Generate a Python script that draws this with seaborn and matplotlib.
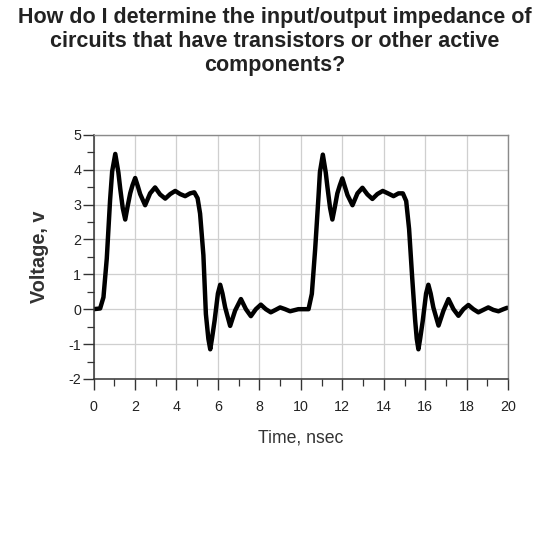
import matplotlib
matplotlib.use("Agg")
import matplotlib.pyplot as plt
import seaborn as sns
import pandas as pd
from matplotlib.ticker import MultipleLocator

# waveform (time in nsec, voltage in V)
time_ns = [
    0.0, 0.32, 0.48, 0.64, 0.80, 0.90, 1.05, 1.20, 1.29, 1.41, 1.53, 1.64,
    1.77, 1.88, 2.01, 2.14, 2.25, 2.49, 2.73, 2.97, 3.21, 3.46, 3.70, 3.94,
    4.18, 4.42, 4.66, 4.86, 5.02, 5.14, 5.30, 5.42, 5.54, 5.63, 5.72, 5.84,
    6.00, 6.11, 6.22, 6.35, 6.59, 6.83, 7.11, 7.35, 7.59, 7.83, 8.07, 8.31,
    8.55, 8.78, 9.00, 9.24, 9.48, 9.88, 10.37, 10.53, 10.69, 10.85, 10.92,
    11.06, 11.20, 11.28, 11.41, 11.52, 11.64, 11.76, 11.88, 12.00, 12.13,
    12.25, 12.49, 12.73, 12.97, 13.21, 13.45, 13.69, 13.95, 14.20, 14.47,
    14.71, 14.92, 15.08, 15.22, 15.37, 15.51, 15.59, 15.67, 15.76, 15.88,
    16.04, 16.15, 16.26, 16.39, 16.64, 16.88, 17.12, 17.36, 17.60, 17.84,
    18.08, 18.32, 18.56, 18.80, 19.04, 19.28, 19.53, 19.77, 19.95,
]
voltage = [
    0.0, 0.02, 0.34, 1.45, 3.13, 3.95, 4.45, 3.92, 3.45, 2.90, 2.57, 2.93,
    3.32, 3.55, 3.76, 3.52, 3.30, 2.98, 3.32, 3.49, 3.29, 3.17, 3.30, 3.39,
    3.30, 3.24, 3.32, 3.35, 3.18, 2.74, 1.55, -0.14, -0.85, -1.15, -0.82,
    -0.33, 0.45, 0.70, 0.45, 0.05, -0.48, -0.04, 0.29, 0.0, -0.20, 0.0,
    0.13, 0.0, -0.09, -0.02, 0.05, 0.0, -0.06, 0.0, 0.0, 0.44, 1.72, 3.22,
    3.93, 4.43, 3.92, 3.51, 2.90, 2.57, 2.93, 3.32, 3.55, 3.75, 3.50, 3.27,
    2.98, 3.32, 3.48, 3.29, 3.16, 3.30, 3.39, 3.32, 3.24, 3.32, 3.32, 3.10,
    2.30, 0.90, -0.30, -0.85, -1.15, -0.82, -0.33, 0.45, 0.70, 0.45, 0.05,
    -0.47, -0.04, 0.29, 0.0, -0.19, 0.0, 0.12, 0.0, -0.09, -0.02, 0.05,
    -0.02, -0.06, 0.0, 0.04,
]

df = pd.DataFrame({"time": time_ns, "voltage": voltage})

sns.set_theme(style="whitegrid")
plt.rcParams["font.family"] = ["Liberation Sans", "DejaVu Sans"]
plt.rcParams["axes.unicode_minus"] = False

fig = plt.figure(figsize=(5.5, 5.5), dpi=100)
ax = fig.add_axes([0.170, 0.311, 0.754, 0.444])

sns.lineplot(data=df, x="time", y="voltage", ax=ax, color="black",
             linewidth=3.2, sort=False, estimator=None,
             solid_joinstyle="round", solid_capstyle="round")

ax.set_xlim(0, 20)
ax.set_ylim(-2, 5)
ax.xaxis.set_major_locator(MultipleLocator(2))
ax.xaxis.set_minor_locator(MultipleLocator(1))
ax.yaxis.set_major_locator(MultipleLocator(1))
ax.yaxis.set_minor_locator(MultipleLocator(0.5))

ax.grid(True, which="major", color="#cfcfcf", linewidth=0.9)
ax.grid(False, which="minor")
ax.tick_params(axis="both", which="major", direction="out", length=8,
               width=1.0, color="#333333", labelsize=10.3, labelcolor="#222222",
               left=True, bottom=True)
ax.tick_params(axis="x", which="major", pad=7)
ax.tick_params(axis="y", which="major", pad=1)
ax.tick_params(axis="both", which="minor", direction="out", length=5,
               width=0.9, color="#333333", left=True, bottom=True)

for side in ["top", "right"]:
    ax.spines[side].set_color("#8a8a8a")
    ax.spines[side].set_linewidth(1.0)
for side in ["left", "bottom"]:
    ax.spines[side].set_color("#333333")
    ax.spines[side].set_linewidth(1.1)

ax.set_xlabel("Time, nsec", fontsize=12.7, color="#333333", labelpad=11)
ax.set_ylabel("Voltage, v", fontsize=14.3, fontweight="bold",
              color="#333333", labelpad=14)

fig.text(0.5, 0.988, "How do I determine the input/output impedance of\n"
         "circuits that have transistors or other active\ncomponents?",
         ha="center", va="top", fontsize=15.5, fontweight="bold",
         color="#222222", linespacing=1.2)

fig.savefig("out.png", dpi=100, facecolor="white")
